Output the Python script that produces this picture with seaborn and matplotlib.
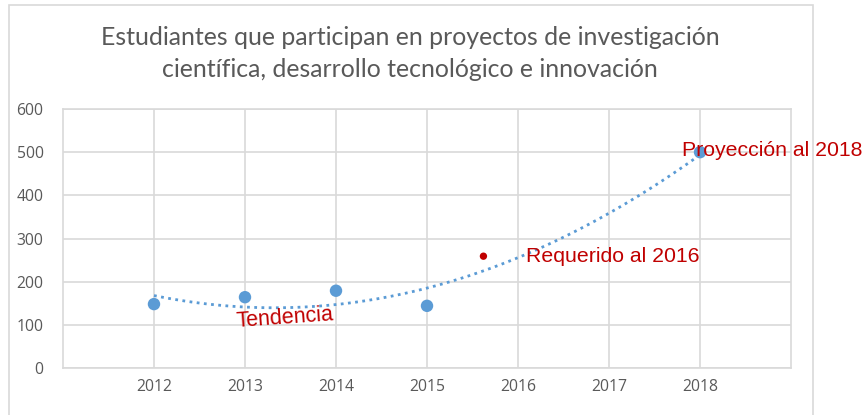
from matplotlib import pyplot as plt
from matplotlib.patches import Rectangle
import pandas as pd
import seaborn as sns

# datos
anios = [2012, 2013, 2014, 2015, 2018]
estudiantes = [148, 164, 179, 144, 500]
requerido_x = [2015.62]
requerido_y = [259]
titulo = 'Estudiantes que participan en proyectos de investigación\ncientífica, desarrollo tecnológico e innovación'

azul = '#5b9bd5'
rojo = '#c00000'
gris = '#595959'

df = pd.DataFrame({'anio': anios, 'estudiantes': estudiantes})

sns.set_style('white')
plt.rcParams['font.family'] = ['Liberation Sans', 'DejaVu Sans']

fig = plt.figure(figsize=(8.65, 4.15), dpi=100)
ax = fig.add_axes([0.0728, 0.1133, 0.9145 - 0.0728, 0.7373 - 0.1133])

# linea de tendencia (polinomica de orden 2)
sns.regplot(x='anio', y='estudiantes', data=df, order=2, ci=None, scatter=False, ax=ax,
            line_kws=dict(color=azul, ls=(0, (1, 1.6)), lw=2.0), truncate=True)
sns.scatterplot(x='anio', y='estudiantes', data=df, ax=ax, color=azul, s=80,
                edgecolor='none', zorder=4)
sns.scatterplot(x=requerido_x, y=requerido_y, ax=ax, color=rojo, s=28,
                edgecolor='none', zorder=4)

ax.set_xlim(2011, 2019)
ax.set_ylim(0, 600)
ax.set_xticks(range(2012, 2019))
ax.set_yticks(range(0, 601, 100))
ax.grid(True, color='#d9d9d9', lw=1.2)
for s in ax.spines.values():
    s.set_color('#d9d9d9')
    s.set_linewidth(1.2)
ax.tick_params(length=0, labelsize=11.3, colors=gris, pad=8)
ax.tick_params(axis='y', pad=14)
for lab in ax.get_xticklabels() + ax.get_yticklabels():
    lab.set_family(['Open Sans', 'DejaVu Sans'])
ax.set_xlabel('')
ax.set_ylabel('')

ax.text(2017.80, 505, 'Proyección al 2018', color=rojo, fontsize=15.3, va='center', ha='left',
        clip_on=False, zorder=5)
ax.text(2016.09, 259, 'Requerido al 2016', color=rojo, fontsize=15.3, va='center', ha='left')
ax.text(2013.44, 116, 'Tendencia', color=rojo, fontsize=15.5, va='center', ha='center', rotation=4)

fig.text(0.474, 0.871, titulo, ha='center', va='center', fontsize=17.9, color=gris,
         family=['Lato', 'DejaVu Sans'], linespacing=1.45)

# marco del area del grafico
fig.patches.append(Rectangle((9 / 865, -0.01), (813 - 9) / 865, 1 - 5 / 415 + 0.01,
                             transform=fig.transFigure, fill=False, ec='#d9d9d9', lw=1.2))

plt.savefig('out.png', dpi=100)
